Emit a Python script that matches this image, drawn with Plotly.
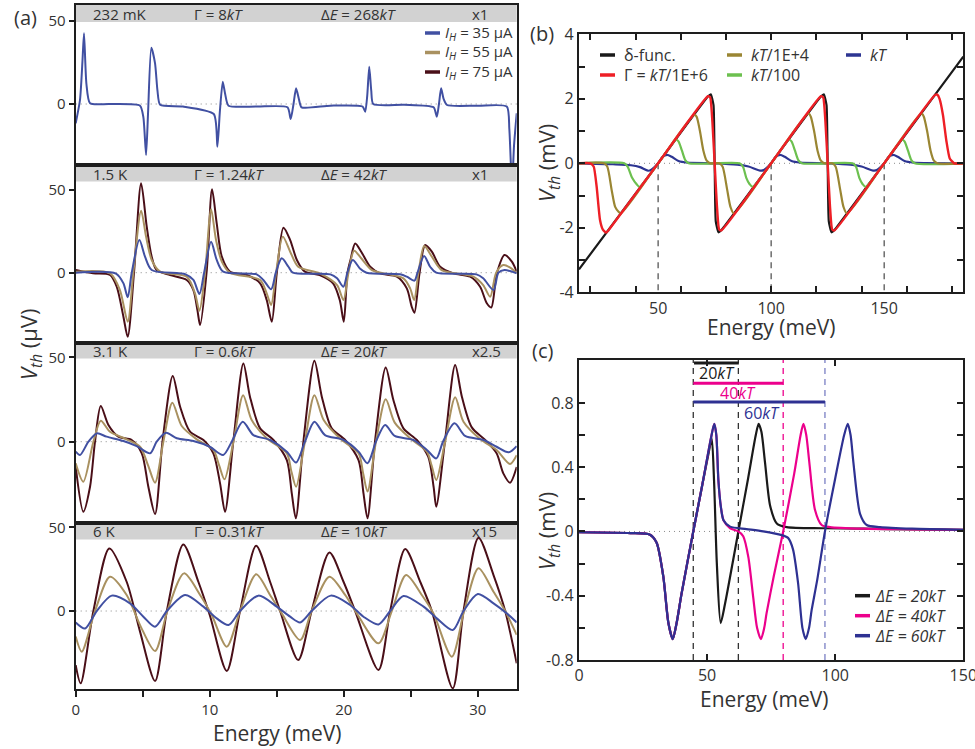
import plotly.graph_objects as go

FONT = "Open Sans"
W, H = 975, 749

# ======================= DATA =======================
# ---- Panel (a): V_th (uV) vs Energy (meV), four temperatures ----
a_xticks = [0, 10, 20, 30]
a_xminor = [5, 15, 25]
a_yticks = [0, 50]
a_temps = ["232 mK", "1.5 K", "3.1 K", "6 K"]
a_gammas = ["Γ = 8<i>kT</i>", "Γ = 1.24<i>kT</i>", "Γ = 0.6<i>kT</i>", "Γ = 0.31<i>kT</i>"]
a_deltas = ["Δ<i>E</i> = 268<i>kT</i>", "Δ<i>E</i> = 42<i>kT</i>", "Δ<i>E</i> = 20<i>kT</i>", "Δ<i>E</i> = 10<i>kT</i>"]
a_scales = ["x1", "x1", "x2.5", "x15"]
a_currents = ["35", "55", "75"]

a1_blue_x = [0, 0.32, 0.5, 0.62, 0.8, 1.07, 2.5, 4.8, 5.05, 5.25, 5.4, 5.64, 5.92, 6.1, 6.3, 8.0, 10.3, 10.57, 10.75, 10.97, 11.15, 11.4, 13.5, 15.8, 16.04, 16.25, 16.44, 16.65, 16.85, 19.0, 21.4, 21.6, 21.75, 21.9, 22.05, 22.2, 24.5, 26.7, 26.94, 27.1, 27.26, 27.45, 27.7, 30.0, 32.16, 32.35, 32.55, 32.7, 32.9]
a1_blue_y = [-11.6, 2.4, 25, 42.4, 12, 0.4, 0, -1, -8, -30.6, -5, 33.8, 24.4, 8, -0.5, -1.5, -6, -25.6, -5, 13.4, 6, -1, -1.5, -2, -9, 0, 9.4, 3, -2, -1, -1.5, -4.6, 5, 22.4, 8, 0, -0.5, -2, -7.6, 0, 9.4, 3, -0.6, -1, -1.5, -15, -50, -25, -5.6]

a2_blue_x = [0, 3.0, 3.56, 3.88, 4.18, 4.75, 5.17, 5.67, 8.2, 8.78, 9.23, 9.58, 10.1, 10.52, 11.0, 13.5, 14.0, 14.58, 14.93, 15.37, 15.87, 16.2, 19.0, 19.5, 19.97, 20.27, 20.67, 21.2, 21.7, 24.2, 24.7, 25.27, 25.5, 25.99, 26.44, 26.9, 29.9, 30.4, 31.17, 31.54, 31.99, 32.9]
a2_blue_y = [0, -0.5, -6.4, -14.9, 0, 19.7, 9.7, 1.6, -1, -4.4, -12.9, 0, 18.7, 7.7, 0.6, -1, -4.4, -10, 0, 8.7, 3.6, 0, -1, -3.4, -8.5, 0, 7.7, 2.6, 0, -1, -2.4, -4.8, 0, 10.1, 3.6, 0, -1, -3.4, -10.5, 0, 1.6, -0.4]
a2_gold_x = [0, 2.56, 3.3, 3.88, 4.3, 4.88, 5.25, 5.67, 6.3, 8.28, 8.9, 9.23, 9.65, 10.1, 10.47, 10.9, 11.5, 13.76, 14.25, 14.58, 14.95, 15.45, 16.0, 16.6, 18.2, 19.5, 19.97, 20.35, 20.77, 21.3, 22.1, 24.45, 24.95, 25.25, 25.57, 26.0, 26.57, 27.3, 29.67, 30.4, 30.92, 31.37, 31.9, 32.5, 32.9]
a2_gold_y = [0.6, -0.4, -10.5, -29.6, 0, 37.5, 21.8, 7.7, 0.6, -2.4, -12.5, -23, 0, 38.3, 19.7, 6.7, 0, -4.4, -12.5, -19.5, 0, 21.8, 12.7, 3.6, -0.4, -7.5, -16.5, 0, 13.3, 8.7, 1.6, -3.4, -9.5, -16.5, 0, 16.1, 9.7, 1.6, -2.4, -7.5, -14.5, 0, 4.6, 2.6, -0.4]
a2_maroon_x = [0, 1.3, 2.56, 3.06, 3.56, 3.88, 4.35, 4.88, 5.3, 5.67, 6.04, 7.04, 8.28, 8.78, 9.08, 9.28, 9.78, 10.17, 10.52, 10.9, 11.52, 12.76, 13.76, 14.25, 14.63, 15.0, 15.5, 16.0, 16.5, 17.1, 18.2, 19.2, 19.7, 20.0, 20.27, 20.5, 20.85, 21.3, 21.97, 22.7, 23.96, 24.7, 25.07, 25.27, 25.65, 26.07, 26.57, 27.19, 28.18, 29.43, 30.17, 30.67, 31.0, 31.42, 31.99, 32.54, 32.9]
a2_maroon_y = [1.6, -0.4, -1.4, -8.5, -26.6, -38.7, 0, 54, 27.8, 9.7, 1.6, -1.4, -4.4, -10.5, -22.6, -31.6, 1.6, 50.4, 29.8, 9.7, 0.6, -1.4, -6.4, -16.5, -29.6, -0.4, 27.2, 19.7, 7.7, 0.6, -1.4, -6.4, -16.5, -29.6, -0.4, 7.7, 17.7, 12.7, 3.6, -0.4, -2.4, -9.5, -20.6, -24.2, -0.4, 16.7, 12.7, 3.6, -0.4, -2.4, -8.5, -18.5, -21, -0.4, 10.7, 6.7, 0.6]

a3_blue_x = [0, 0.32, 0.95, 1.57, 2.31, 3.56, 4.55, 5.55, 6.04, 6.74, 7.54, 8.78, 10.0, 11.0, 11.64, 12.46, 13.26, 14.5, 15.75, 16.44, 17.1, 17.81, 18.6, 19.98, 21.1, 21.77, 22.4, 23.08, 23.8, 25.2, 26.2, 26.9, 27.4, 28.26, 29.05, 30.42, 31.4, 32.3, 32.9]
a3_blue_y = [-5.9, -7.9, 0, 4.9, 3, 0.4, -2.6, -6.9, 0, 5.3, 2, 0.4, -3, -7.9, 0, 11.8, 3.9, 1, -5.9, -12.4, 0, 11.8, 3.9, 1, -5.9, -12.8, 0, 9.9, 3.4, 1, -4.9, -9.9, 0, 10.9, 3.4, 1, -3, -6.3, -2.6]
a3_gold_x = [0, 0.57, 1.32, 1.87, 2.56, 3.8, 4.8, 5.4, 5.92, 6.54, 7.21, 7.91, 9.03, 10.27, 10.7, 11.1, 11.77, 12.49, 13.13, 14.25, 15.75, 16.1, 16.44, 17.1, 17.81, 18.5, 19.7, 21.1, 21.45, 21.77, 22.4, 23.13, 23.8, 24.95, 26.2, 26.55, 26.9, 27.56, 28.31, 28.93, 30.17, 31.4, 32.4, 32.9]
a3_gold_y = [-12.8, -23.7, 0, 12.4, 5.9, 1.4, -3, -14, -24.3, 0, 23.1, 9.3, 1.4, -4.9, -14, -22.3, 0, 27.6, 12.8, 2, -6.9, -18, -26.7, 0, 27.6, 12.8, 2, -6.9, -19, -29.6, 0, 25.1, 11.3, 2, -5.9, -14, -22.7, 0, 26.3, 11.8, 1.6, -4.9, -13.2, -8]
a3_maroon_x = [0, 0.57, 1.07, 1.44, 1.87, 2.44, 3.18, 4.18, 4.93, 5.42, 5.92, 6.49, 7.24, 7.79, 8.53, 9.53, 10.27, 10.77, 11.14, 11.77, 12.51, 13.0, 13.76, 14.75, 15.75, 16.12, 16.42, 17.0, 17.81, 18.36, 19.1, 20.1, 21.1, 21.47, 21.77, 22.34, 23.13, 23.7, 24.45, 25.45, 26.3, 26.7, 26.9, 27.56, 28.31, 28.81, 29.55, 30.55, 31.4, 31.9, 32.4, 32.9]
a3_maroon_y = [-14.8, -41.5, -26.7, 0, 21.1, 9.9, 3, 1, -6.9, -26.7, -42.9, 1, 38.9, 20.7, 5.9, 1, -6.9, -24.7, -41.5, 1, 46.4, 26.7, 7.9, 1, -10.9, -30.6, -45.4, 1, 48, 26.7, 7.9, 1, -10.9, -30.6, -45.4, 1, 44, 24.7, 7.9, 1, -8.9, -26.7, -38.5, 1, 45.4, 26.7, 8.5, 1, -6.9, -18.8, -24.3, -15]

a4_blue_x = [0, 0.7, 1.57, 2.69, 4.05, 5.05, 5.92, 6.8, 8.16, 9.53, 10.52, 11.4, 12.26, 13.63, 15.0, 16.0, 16.74, 17.6, 19.03, 20.47, 21.47, 22.59, 23.46, 24.45, 25.95, 26.94, 28.13, 28.93, 30.0, 31.17, 32.16, 32.9]
a4_blue_y = [-6.8, -10.4, 0, 9.2, 4.6, -3.4, -9.4, 0, 9.6, 2.6, -4.4, -8.4, 0, 9.2, 2.6, -3.4, -6.8, 0, 9.2, 3.6, -3.4, -8, 0, 9, 2.6, -4.4, -11.4, 0, 10.2, 4.6, -1.4, -6.8]
a4_gold_x = [0, 0.45, 1.44, 2.56, 3.8, 4.8, 5.92, 6.84, 8.08, 9.28, 10.15, 11.27, 12.26, 13.46, 14.5, 15.37, 16.74, 17.6, 18.93, 20.1, 20.97, 22.59, 23.58, 24.65, 25.82, 26.69, 28.06, 28.98, 30.05, 31.17, 32.04, 32.9]
a4_gold_y = [-15.3, -24.3, 0, 20.5, 9.6, -8.4, -23.9, 0, 22.5, 9.6, -2.4, -21.3, 0, 21.9, 9.6, -1.4, -17.3, 0, 20.5, 9.6, -1.4, -19.3, 0, 21.5, 9.6, -1.4, -27.3, 0, 25.5, 11.5, 0, -14.3]
a4_maroon_x = [0, 0.37, 1.32, 2.51, 3.8, 4.8, 5.92, 6.8, 8.03, 9.15, 10.0, 11.27, 12.26, 13.46, 14.5, 15.25, 16.6, 17.6, 18.93, 19.98, 20.85, 22.59, 23.46, 24.58, 25.7, 26.57, 28.13, 28.93, 30.05, 31.17, 32.04, 32.9]
a4_maroon_y = [-32.3, -43.2, 0, 37.4, 17.5, -12.3, -41.8, 0, 39.8, 17.5, -2.4, -35.8, 0, 39, 17.5, 0, -29.3, 0, 35, 17.5, 0, -35.2, 0, 37, 17.5, 0, -46.2, 0, 43.8, 21.5, 0, -31.3]

# ---- Panel (b): V_th (mV) vs Energy (meV) for several broadenings ----
b_xticks = [50, 100, 150]
b_xminor = [20, 40, 60, 80, 100, 120, 140, 160, 180]
b_yticks = [-4, -2, 0, 2, 4]
b_yminor = [-3, -1, 1, 3]
b_dash_x = [50, 100, 150]
b_dash_y = [0, -4]
b_labels = ["δ-func.", "Γ = <i>kT</i>/1E+6", "<i>kT</i>/1E+4", "<i>kT</i>/100", "<i>kT</i>"]

b_black_x = [15, 50, 72, 73.3, 74.5, 75, 75.5, 76.7, 78, 100, 122, 123.3, 124.5, 125, 125.5, 126.7, 128, 150, 185]
b_black_y = [-3.29, 0, 2.07, 2.14, 1.8, 0, -1.8, -2.14, -2.07, 0, 2.07, 2.14, 1.8, 0, -1.8, -2.14, -2.07, 0, 3.31]
b_red_x = [15, 20, 21.5, 22.8, 24.3, 25.5, 27, 28, 50, 72, 73, 74, 75, 76, 77, 78, 100, 122, 123, 124, 125, 126, 127, 128, 150, 172.5, 173.5, 174.5, 176, 177.5, 179, 181, 185]
b_red_y = [0, 0, -0.1, -0.72, -1.76, -2.05, -2.15, -2.08, 0, 2.08, 2.05, 1.3, 0, -1.3, -2.05, -2.08, 0, 2.08, 2.05, 1.3, 0, -1.3, -2.05, -2.08, 0, 2.12, 2.13, 2.0, 1.5, 0.7, 0.15, 0, 0]
b_olive_x = [15, 26, 27.5, 29.5, 31, 32.5, 33.5, 50, 66, 67, 68.5, 70, 71.5, 73, 77, 78.5, 80.5, 82, 83.5, 100, 116.5, 117.5, 119, 120.5, 122, 123.5, 127, 128.5, 130.5, 132, 133.5, 150, 166.5, 167.5, 169, 170.5, 172, 173.5, 185]
b_olive_y = [0, 0, -0.1, -0.85, -1.35, -1.5, -1.55, 0, 1.5, 1.45, 1.0, 0.4, 0.08, 0, 0, -0.1, -0.8, -1.35, -1.55, 0, 1.55, 1.45, 1.0, 0.4, 0.08, 0, 0, -0.1, -0.8, -1.35, -1.55, 0, 1.55, 1.45, 1.0, 0.4, 0.08, 0, 0]
b_green_x = [15, 35, 36.5, 38.5, 40.5, 41.8, 50, 58, 59, 60.5, 62, 63.5, 86, 87.5, 89, 90.5, 91.8, 100, 108, 109, 110.5, 112, 113.5, 136, 137.5, 139, 140.5, 141.8, 150, 158, 159, 160.5, 162, 163.5, 185]
b_green_y = [0, 0, -0.1, -0.45, -0.65, -0.73, 0, 0.73, 0.68, 0.4, 0.1, 0, 0, -0.1, -0.45, -0.65, -0.73, 0, 0.73, 0.68, 0.4, 0.1, 0, 0, -0.1, -0.45, -0.65, -0.73, 0, 0.73, 0.68, 0.4, 0.1, 0, 0]
b_blue_x = [15, 30, 38, 42, 45.5, 47, 50, 52, 54, 56, 59, 63, 75, 85, 90, 95.5, 97, 100, 102, 104, 106, 109, 113, 125, 135, 140, 145.5, 147, 150, 152, 154, 156, 159, 163, 185]
b_blue_y = [0, -0.03, -0.06, -0.12, -0.23, -0.2, 0, 0.2, 0.26, 0.2, 0.07, 0.02, 0, -0.04, -0.1, -0.23, -0.2, 0, 0.2, 0.26, 0.2, 0.07, 0.02, 0, -0.04, -0.1, -0.23, -0.2, 0, 0.2, 0.26, 0.2, 0.07, 0.02, 0]

# ---- Panel (c): V_th (mV) vs Energy (meV) for three level spacings ----
c_xticks = [0, 50, 100, 150]
c_yticks = [-0.8, -0.4, 0, 0.4, 0.8]
c_yticklabels = ["-0.8", "-0.4", "0", "0.4", "0.8"]
c_yminor = [-0.6, -0.2, 0.2, 0.6]
c_dash_x = [44.6, 62.2, 79.7, 96.0]
c_bar_start = [44.9, 44.6, 44.6]
c_bar_end = [62.4, 79.7, 96.0]
c_bar_y = [1.048, 0.923, 0.806]
c_bar_labels = ["20<i>kT</i>", "40<i>kT</i>", "60<i>kT</i>"]
c_bar_label_x = [53.7, 62.2, 71.5]
c_bar_label_y = [0.984, 0.861, 0.738]
c_labels = ["<i>ΔE = 20kT</i>", "<i>ΔE = 40kT</i>", "<i>ΔE = 60kT</i>"]

c_black_x = [0, 20, 27.7, 30.3, 32.9, 34.9, 36.6, 38.1, 40, 44.6, 48, 50.5, 51.8, 52.7, 53.8, 55.3, 57, 62.2, 66, 69, 70.1, 71.2, 72.6, 74.6, 77.2, 81.1, 95, 111, 130, 150]
c_black_y = [-0.005, -0.01, -0.02, -0.07, -0.28, -0.57, -0.67, -0.57, -0.39, 0, 0.28, 0.48, 0.58, 0.32, -0.2, -0.57, -0.45, 0, 0.33, 0.6, 0.67, 0.62, 0.43, 0.16, 0.05, 0.027, 0.02, 0.017, 0.013, 0.01]
c_mag_x = [0, 20, 27.7, 30.3, 32.9, 34.9, 36.6, 38.1, 40, 44.6, 48, 51.5, 52.8, 53.6, 54.4, 55.4, 56.4, 59, 62.2, 64.1, 66.1, 68, 69.5, 71, 72.3, 73.2, 76, 79.7, 84, 86.5, 87.6, 88.7, 89.9, 92.1, 94.7, 98, 111, 130, 150]
c_mag_y = [-0.005, -0.01, -0.02, -0.07, -0.28, -0.57, -0.67, -0.57, -0.39, 0, 0.28, 0.58, 0.67, 0.6, 0.32, 0.15, 0.07, 0.02, 0, -0.03, -0.16, -0.41, -0.6, -0.67, -0.6, -0.51, -0.28, 0, 0.36, 0.6, 0.67, 0.6, 0.43, 0.135, 0.04, 0.027, 0.017, 0.013, 0.01]
c_blue_x = [0, 20, 27.7, 30.3, 32.9, 34.9, 36.6, 38.1, 40, 44.6, 48, 51.5, 52.8, 53.6, 54.4, 55.4, 56.4, 59, 65.4, 71.9, 78.4, 81.6, 83.5, 85.5, 87.2, 88.5, 89.8, 90.8, 93, 96, 100, 103.5, 104.9, 106, 107.1, 109.7, 112.3, 117.5, 130, 150]
c_blue_y = [-0.005, -0.01, -0.02, -0.07, -0.28, -0.57, -0.67, -0.57, -0.39, 0, 0.28, 0.58, 0.67, 0.6, 0.32, 0.15, 0.07, 0.03, 0.015, 0, -0.02, -0.04, -0.11, -0.32, -0.6, -0.67, -0.6, -0.49, -0.3, 0, 0.33, 0.6, 0.67, 0.6, 0.43, 0.11, 0.04, 0.027, 0.017, 0.01]

# ======================= STYLE / LAYOUT =======================
A_BLUE, A_GOLD, A_MAROON = "#4150a2", "#a99160", "#4a0f18"
B_BLACK, B_RED, B_OLIVE, B_GREEN, B_BLUE = "#1a1a1a", "#ee1f26", "#9a8633", "#6cc04f", "#2d3592"
C_BLACK, C_MAG, C_BLUE = "#1a1a1a", "#ec008c", "#2e3192"
LINE = "#1e1e1e"
TXT = "#333333"


def px(x):
    return x / W


def py(y):
    return 1 - y / H


a_x_px = (75.7, 516.7)
a_panels_px = [(5, 165), (165, 343), (343, 523), (523, 689)]
a_yranges = [[-36.6, 59.4], [-42.5, 65.1], [-48.2, 58.5], [-46.6, 52.6]]
a_strip_px = [(5, 22), (165, 181.5), (343, 358.5), (523, 539.5)]
a_text_y = [14, 174, 351, 531]

fig = go.Figure()


def add_line(x, y, color, width, ax, smoothing=1.0, shape="spline", dash=None):
    fig.add_trace(go.Scatter(
        x=x, y=y, mode="lines", showlegend=False, hoverinfo="skip",
        line=dict(color=color, width=width, shape=shape,
                  smoothing=smoothing if shape == "spline" else None, dash=dash),
        xaxis="x" if ax == 1 else f"x{ax}", yaxis="y" if ax == 1 else f"y{ax}"))


# panel (a) traces
add_line(a1_blue_x, a1_blue_y, A_BLUE, 2, 1, smoothing=0.6)
a_sets = [
    (a2_maroon_x, a2_maroon_y, a2_gold_x, a2_gold_y, a2_blue_x, a2_blue_y),
    (a3_maroon_x, a3_maroon_y, a3_gold_x, a3_gold_y, a3_blue_x, a3_blue_y),
    (a4_maroon_x, a4_maroon_y, a4_gold_x, a4_gold_y, a4_blue_x, a4_blue_y),
]
for i, s in enumerate(a_sets):
    ax = i + 2
    add_line(s[0], s[1], A_MAROON, 2, ax, smoothing=0.8)
    add_line(s[2], s[3], A_GOLD, 2, ax, smoothing=0.8)
    add_line(s[4], s[5], A_BLUE, 2, ax, smoothing=0.8)

# panel (b) traces
for xv in b_dash_x:
    add_line([xv, xv], b_dash_y, "#555555", 1.3, 5, shape="linear", dash="6px,5px")
add_line(b_black_x, b_black_y, B_BLACK, 2.2, 5, shape="spline", smoothing=0.4)
add_line(b_blue_x, b_blue_y, B_BLUE, 2.2, 5, smoothing=0.7)
add_line(b_green_x, b_green_y, B_GREEN, 2.2, 5, smoothing=0.7)
add_line(b_olive_x, b_olive_y, B_OLIVE, 2.2, 5, smoothing=0.7)
add_line(b_red_x, b_red_y, B_RED, 2.4, 5, smoothing=0.5)

# panel (c) traces
c_dash_colors = ["#333333", "#333333", C_MAG, "#7a7fc4"]
for xv, col in zip(c_dash_x, c_dash_colors):
    add_line([xv, xv], [-0.8, 1.067], col, 1.3, 6, shape="linear", dash="6px,5px")
for x0, x1, yb, col in zip(c_bar_start, c_bar_end, c_bar_y, [C_BLACK, C_MAG, C_BLUE]):
    add_line([x0, x1], [yb, yb], col, 3, 6, shape="linear")
add_line(c_black_x, c_black_y, C_BLACK, 2.2, 6, smoothing=0.7)
add_line(c_mag_x, c_mag_y, C_MAG, 2.2, 6, smoothing=0.7)
add_line(c_blue_x, c_blue_y, C_BLUE, 2.2, 6, smoothing=0.7)

layout = dict(
    width=W, height=H, margin=dict(l=0, r=0, t=0, b=0, autoexpand=False),
    paper_bgcolor="white", plot_bgcolor="rgba(0,0,0,0)",
    font=dict(family=FONT, color=TXT), showlegend=False,
)

tickfont_a = dict(family=FONT, size=15, color=TXT)
for i in range(4):
    ax = i + 1
    xk = "xaxis" if ax == 1 else f"xaxis{ax}"
    yk = "yaxis" if ax == 1 else f"yaxis{ax}"
    top, bot = a_panels_px[i]
    xa = dict(domain=[px(a_x_px[0]), px(a_x_px[1])], range=[0, 32.9], automargin=False,
              anchor="y" if ax == 1 else f"y{ax}", showgrid=False, zeroline=False,
              showline=True, mirror=True, linecolor=LINE, linewidth=2.2,
              ticklabeloverflow="allow")
    if ax == 4:
        xa.update(tickmode="array", tickvals=a_xticks, ticktext=[str(v) for v in a_xticks],
                  ticks="outside", ticklen=6, tickwidth=1.5, tickcolor=LINE,
                  tickfont=tickfont_a,
                  minor=dict(tickmode="array", tickvals=a_xminor, ticks="outside",
                             ticklen=6, tickwidth=1.5, tickcolor=LINE))
    else:
        xa.update(showticklabels=False, ticks="")
    ya = dict(domain=[py(bot), py(top)], range=a_yranges[i], automargin=False,
              anchor="x" if ax == 1 else f"x{ax}", showgrid=False, zeroline=False,
              showline=True, mirror=True, linecolor=LINE, linewidth=2.2,
              tickmode="array", tickvals=a_yticks, ticktext=[str(v) for v in a_yticks],
              ticks="outside", ticklen=5, tickwidth=1.5, tickcolor=LINE,
              tickfont=tickfont_a, ticklabeloverflow="allow")
    layout[xk] = xa
    layout[yk] = ya

tickfont_bc = dict(family=FONT, size=16, color=TXT)
common_bc = dict(showgrid=False, zeroline=False, showline=True, mirror="ticks",
                 linecolor=LINE, linewidth=2.2, ticks="inside", ticklen=6,
                 tickwidth=1.5, tickcolor=LINE, tickfont=tickfont_bc, tickmode="array",
                 automargin=False, ticklabeloverflow="allow")


def minor_of(vals):
    return dict(tickmode="array", tickvals=vals, ticks="inside", ticklen=6,
                tickwidth=1.5, tickcolor=LINE)


bx = dict(common_bc)
bx.update(ticks="", minor=minor_of(b_xminor))
layout["xaxis5"] = dict(domain=[px(579), px(963.3)], range=[15, 185], anchor="y5",
                        tickvals=b_xticks, ticktext=[str(v) for v in b_xticks], **bx)
layout["yaxis5"] = dict(domain=[py(292.3), py(34.3)], range=[-4, 4], anchor="x5",
                        tickvals=b_yticks, ticktext=[str(v) for v in b_yticks],
                        minor=minor_of(b_yminor), **common_bc)
layout["xaxis6"] = dict(domain=[px(579), px(963.3)], range=[0, 150], anchor="y6",
                        tickvals=c_xticks, ticktext=[str(v) for v in c_xticks], **common_bc)
layout["yaxis6"] = dict(domain=[py(660), py(360)], range=[-0.8, 1.067], anchor="x6",
                        tickvals=c_yticks, ticktext=c_yticklabels,
                        minor=minor_of(c_yminor), **common_bc)

shapes = []
# header strips of panel (a)
for (t, b) in a_strip_px:
    shapes.append(dict(type="rect", xref="paper", yref="paper",
                       x0=px(a_x_px[0]), x1=px(a_x_px[1]), y0=py(b), y1=py(t),
                       fillcolor="#d2d2d2", line=dict(width=0), layer="below"))
# dotted zero lines
for ax in range(1, 7):
    shapes.append(dict(type="line", xref="x domain" if ax == 1 else f"x{ax} domain",
                       yref="y" if ax == 1 else f"y{ax}", x0=0, x1=1, y0=0, y1=0,
                       line=dict(color="#8a8a8a", width=1, dash="1px,4px"), layer="below"))

annotations = []


def ann(text, x, y, size, color=TXT, xanchor="center", yanchor="middle", angle=0):
    annotations.append(dict(xref="paper", yref="paper", x=px(x), y=py(y), text=text,
                            showarrow=False, font=dict(family=FONT, size=size, color=color),
                            xanchor=xanchor, yanchor=yanchor, textangle=angle))


def legend_sample(x0, x1, y, color):
    shapes.append(dict(type="line", xref="paper", yref="paper", x0=px(x0), x1=px(x1),
                       y0=py(y), y1=py(y), line=dict(color=color, width=3.5)))


# panel (a) header texts
for i in range(4):
    yy = a_text_y[i]
    ann(a_temps[i], 91, yy, 15, xanchor="left")
    ann(a_gammas[i], 192, yy, 15, xanchor="left")
    ann(a_deltas[i], 319, yy, 15, xanchor="left")
    ann(a_scales[i], 470, yy, 15, xanchor="left")

# panel (a) legend
for cur, col, yy in zip(a_currents, [A_BLUE, A_GOLD, A_MAROON], [33, 52.5, 72]):
    legend_sample(425, 440, yy, col)
    ann(f"<i>I</i><sub><i>H</i></sub> = {cur} μA", 443, yy, 15, xanchor="left")

# panel (b) legend
b_leg_pos = [(600, 55), (600, 75), (727, 55), (727, 75), (846, 55)]
for lab, col, (lx, ly) in zip(b_labels, [B_BLACK, B_RED, B_OLIVE, B_GREEN, B_BLUE], b_leg_pos):
    legend_sample(lx, lx + 15, ly, col)
    ann(lab, lx + 22, ly, 16, xanchor="left")

# panel (c) legend
for lab, col, yy in zip(c_labels, [C_BLACK, C_MAG, C_BLUE], [595.7, 615.7, 635.7]):
    legend_sample(855, 870, yy, col)
    ann(lab, 873, yy, 16, xanchor="left")

# panel (c) bar labels (data coords)
for lab, lx, ly, col in zip(c_bar_labels, c_bar_label_x, c_bar_label_y, [C_BLACK, C_MAG, C_BLUE]):
    annotations.append(dict(xref="x6", yref="y6", x=lx, y=ly, text=lab, showarrow=False,
                            font=dict(family=FONT, size=16, color=col)))

# axis titles and panel labels
ann("Energy (meV)", 277, 733, 21)
ann("Energy (meV)", 771, 327, 21)
ann("Energy (meV)", 764, 699, 21)
ann("<i>V</i><sub><i>th</i></sub> (μV)", 30, 345, 22, angle=-90)
ann("<i>V</i><sub><i>th</i></sub> (mV)", 548, 163, 22, angle=-90)
ann("<i>V</i><sub><i>th</i></sub> (mV)", 548, 531, 22, angle=-90)
ann("(a)", 25, 18, 20)
ann("(b)", 542, 34, 20)
ann("(c)", 542, 350, 20)

layout["shapes"] = shapes
layout["annotations"] = annotations
fig.update_layout(**layout)
fig.write_html("out.html", config={"displayModeBar": False},
               post_script="document.body.style.margin='0';document.body.style.overflow='hidden';")
